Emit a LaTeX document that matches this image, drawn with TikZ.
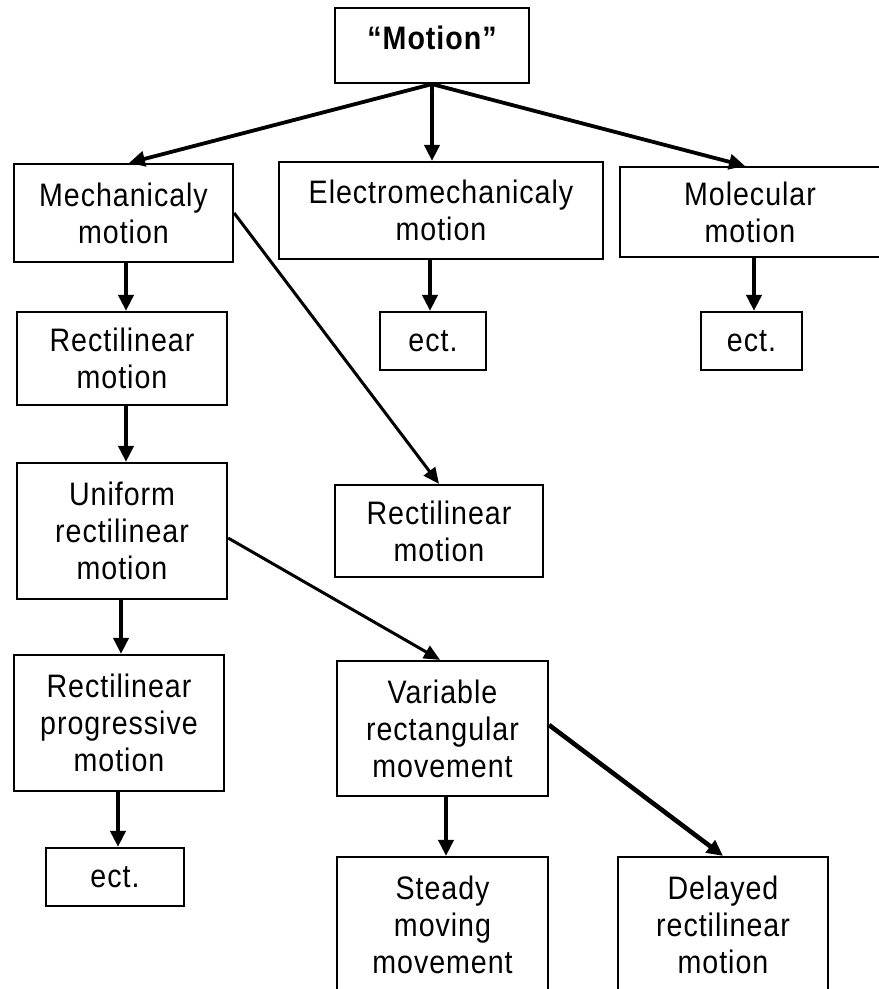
\documentclass[tikz,border=0pt]{standalone}
\usepackage{fontspec}
\setmainfont{Liberation Sans}[FakeStretch=0.88,LetterSpace=3]
\usetikzlibrary{arrows.meta,calc}
\begin{document}
\begin{tikzpicture}[x=1pt,y=-1pt,
  box/.style={draw,line width=2.2pt,rectangle,inner sep=0pt,align=center,
    font=\fontsize{32.5}{37}\selectfont},
  arr/.style={line width=3.8pt,-{Triangle[length=16pt,width=15pt]}},
  thinarr/.style={line width=3pt,-{Triangle[length=16pt,width=14pt]}},
  thickarr/.style={line width=4.6pt,-{Triangle[length=16pt,width=15pt]}}]
\useasboundingbox (0,0) rectangle (879,989);
\node[box,minimum width=194pt,minimum height=75pt] (motion) at (432,45.5) {\raisebox{16pt}{\bfseries “Motion”}};
\node[box,minimum width=219pt,minimum height=98pt] (mech) at (123.5,213) {Mechanicaly\\motion};
\node[box,minimum width=324pt,minimum height=97pt] (electro) at (441,210.5) {Electromechanicaly\\motion};
\node[box,minimum width=260pt,minimum height=90pt] (molec) at (750,212) {Molecular\\motion};
\node[box,minimum width=210pt,minimum height=93pt] (rectL) at (122,358.5) {Rectilinear\\motion};
\node[box,minimum width=106pt,minimum height=58pt] (ectM) at (433,341) {ect.};
\node[box,minimum width=101pt,minimum height=58pt] (ectR) at (751.5,341) {ect.};
\node[box,minimum width=210pt,minimum height=136pt] (unif) at (122,531) {Uniform\\rectilinear\\motion};
\node[box,minimum width=208pt,minimum height=92pt] (rectM) at (439,531) {Rectilinear\\motion};
\node[box,minimum width=210pt,minimum height=136pt] (prog) at (119,723) {Rectilinear\\progressive\\motion};
\node[box,minimum width=211pt,minimum height=135pt] (var) at (442.5,728.5) {Variable\\rectangular\\movement};
\node[box,minimum width=138pt,minimum height=58pt] (ectB) at (115,877) {ect.};
\node[box,minimum width=211pt,minimum height=136pt] (steady) at (442.5,925) {Steady\\moving\\movement};
\node[box,minimum width=210pt,minimum height=136pt] (delayed) at (723,925) {Delayed\\rectilinear\\motion};
% connectors
\draw[arr] (motion.south) -- ($(mech.north)+(5.5,0)$);
\draw[arr] (motion.south) -- (motion.south |- electro.north);
\draw[arr] (motion.south) -- ($(molec.north)+(-5,0)$);
\draw[arr] ($(mech.south)+(2.5,0)$) -- ($(rectL.north)+(4,0)$);
\draw[arr] ($(electro.south)+(-11,0)$) -- ($(ectM.north)+(-3,0)$);
\draw[arr] ($(molec.south)+(4,0)$) -- ($(ectR.north)+(2.5,0)$);
\draw[arr] ($(rectL.south)+(4,0)$) -- ($(unif.north)+(4,0)$);
\draw[thinarr] (mech.east) -- (rectM.north);
\draw[thinarr] ($(unif.east)+(0,7)$) -- ($(var.north)+(-2.5,0)$);
\draw[arr] ($(unif.south)+(-1,0)$) -- ($(prog.north)+(2,0)$);
\draw[arr] ($(prog.south)+(-1,0)$) -- ($(ectB.north)+(3,0)$);
\draw[arr] ($(var.south)+(3.5,0)$) -- ($(steady.north)+(3.5,0)$);
\draw[thickarr] ($(var.east)+(0,-3.5)$) -- (delayed.north);
\end{tikzpicture}
\end{document}
